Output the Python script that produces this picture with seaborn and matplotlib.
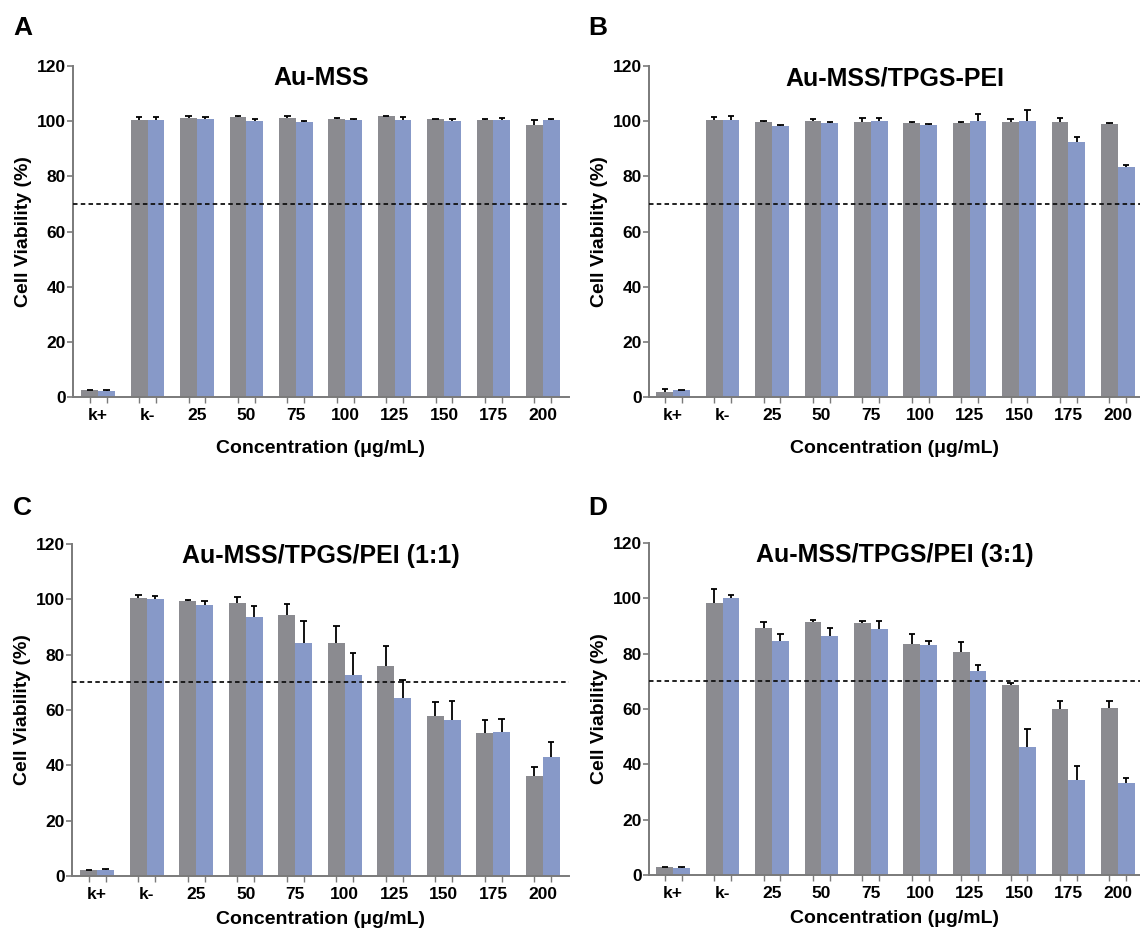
import numpy as np
import pandas as pd
import matplotlib
matplotlib.use("Agg")
import matplotlib.pyplot as plt
import seaborn as sns

# --- DATA ---
groups = ["k+", "k-", "25", "50", "75", "100", "125", "150", "175", "200"]
series = ["gray", "blue"]
titles = ["Au-MSS", "Au-MSS/TPGS-PEI", "Au-MSS/TPGS/PEI (1:1)", "Au-MSS/TPGS/PEI (3:1)"]
letters = ["A", "B", "C", "D"]

# panel A
a_gray = [2.4, 100.5, 101.2, 101.4, 101.2, 100.9, 101.7, 100.7, 100.4, 98.5]
a_gray_err = [0.2, 1.0, 0.6, 0.3, 0.8, 0.3, 0.3, 0.2, 0.3, 2.0]
a_blue = [2.3, 100.5, 100.7, 100.2, 99.8, 100.3, 100.6, 100.2, 100.4, 100.5]
a_blue_err = [0.2, 1.0, 0.7, 0.7, 0.4, 0.5, 0.8, 0.7, 0.6, 0.3]

# panel B
b_gray = [1.8, 100.4, 99.7, 100.1, 99.8, 99.4, 99.5, 99.7, 99.8, 98.9]
b_gray_err = [1.0, 1.2, 0.3, 0.7, 1.3, 0.2, 0.2, 1.0, 1.3, 0.4]
b_blue = [2.4, 100.6, 98.4, 99.2, 100.0, 98.7, 100.1, 100.1, 92.4, 83.5]
b_blue_err = [0.1, 1.2, 0.3, 0.5, 1.2, 0.3, 2.4, 3.9, 1.7, 0.7]

# panel C
c_gray = [2.2, 100.5, 99.5, 98.8, 94.3, 84.2, 75.8, 57.9, 51.6, 36.3]
c_gray_err = [0.1, 1.2, 0.2, 2.0, 4.1, 6.3, 7.2, 4.9, 4.9, 3.0]
c_blue = [2.3, 100.1, 98.0, 93.6, 84.3, 72.5, 64.3, 56.3, 52.0, 43.1]
c_blue_err = [0.1, 1.2, 1.4, 4.0, 8.0, 8.0, 6.6, 6.8, 4.6, 5.5]

# panel D
d_gray = [2.9, 98.2, 89.1, 91.5, 91.0, 83.4, 80.5, 68.5, 60.0, 60.2]
d_gray_err = [0.1, 5.0, 2.3, 0.6, 0.9, 3.8, 3.7, 1.0, 3.0, 2.8]
d_blue = [2.7, 100.0, 84.6, 86.4, 89.0, 83.1, 73.7, 46.2, 34.5, 33.1]
d_blue_err = [0.1, 1.2, 2.6, 2.8, 2.7, 1.3, 2.2, 6.6, 4.9, 2.0]

threshold = 70

panels = [
    (a_gray, a_gray_err, a_blue, a_blue_err),
    (b_gray, b_gray_err, b_blue, b_blue_err),
    (c_gray, c_gray_err, c_blue, c_blue_err),
    (d_gray, d_gray_err, d_blue, d_blue_err),
]

# --- STYLE ---
sns.set_theme(style="white")
plt.rcParams['font.family'] = ['Liberation Sans', 'DejaVu Sans']
plt.rcParams['font.weight'] = 'bold'

colors = ['#8b8b90', '#8799c8']
spine_col = '#7a7a7a'

W, H = 1140, 934
fig = plt.figure(figsize=(W / 100, H / 100), dpi=100)

# axes boxes in pixels: left, zero-line y, width, height
boxes = [
    (73, 397, 496, 331),
    (649, 397, 491, 331),
    (72, 876, 497, 332),
    (649, 875, 491, 332),
]
xlims = [(-0.51, 9.53), (-0.49, 9.45), (-0.51, 9.53), (-0.49, 9.45)]
letter_pos = [(23, 28), (598, 28), (22, 508), (598, 508)]
xlabel_gap = [43, 43, 35, 35]

for i, (g, ge, b, be) in enumerate(panels):
    left, zero_y, w, h = boxes[i]
    ax = fig.add_axes([left / W, 1 - zero_y / H, w / W, h / H])

    df = pd.DataFrame({
        'Concentration': groups * 2,
        'Viability': g + b,
        'err': ge + be,
        'series': [series[0]] * len(groups) + [series[1]] * len(groups),
    })
    sns.barplot(data=df, x='Concentration', y='Viability', hue='series',
                palette=colors, saturation=1, width=0.68, errorbar=None,
                linewidth=0, legend=False, ax=ax, zorder=2)

    # one-sided error bars (up only), GraphPad style
    bar_centers = []
    for cont, vals, errs in zip(ax.containers, [g, b], [ge, be]):
        xs = np.array([p.get_x() + p.get_width() / 2 for p in cont])
        bar_centers.extend(xs)
        tops = np.array(vals) + np.array(errs)
        ax.vlines(xs, vals, tops, color='black', lw=1.3, zorder=3)
        ax.hlines(tops, xs - 0.065, xs + 0.065, color='black', lw=1.3, zorder=3)

    ax.axhline(threshold, color='#111111', lw=1.3, ls=(0, (2.5, 1.8)), zorder=4)

    ax.set_xlim(*xlims[i])
    ax.set_ylim(0, 120)
    ax.set_yticks([0, 20, 40, 60, 80, 100, 120])
    ax.set_xticks(range(len(groups)))
    ax.set_xticklabels(groups)
    ax.set_xticks(sorted(bar_centers), minor=True)

    for s in ['top', 'right']:
        ax.spines[s].set_visible(False)
    for s in ['left', 'bottom']:
        ax.spines[s].set_color(spine_col)
        ax.spines[s].set_linewidth(1.4)

    ax.tick_params(axis='y', which='major', direction='out', length=4, width=1.2,
                   color=spine_col, labelsize=12.5, pad=1, left=True)
    ax.tick_params(axis='x', which='major', length=0, labelsize=12.5, pad=8)
    ax.tick_params(axis='x', which='minor', direction='out', length=4, width=1.0,
                   color=spine_col, bottom=True)
    for lab in ax.get_xticklabels() + ax.get_yticklabels():
        lab.set_fontweight('bold')
        lab.set_color('black')

    ax.set_ylabel('Cell Viability (%)', fontsize=14, fontweight='bold', color='black')
    ax.yaxis.set_label_coords(-41 / w, 0.5)
    ax.set_xlabel('Concentration (\u03bcg/mL)', fontsize=14, fontweight='bold', color='black')
    ax.xaxis.set_label_coords(0.5, -xlabel_gap[i] / h)

    ax.text(0.5, 1 - 12 / h, titles[i], transform=ax.transAxes, ha='center', va='center',
            fontsize=18, fontweight='bold', color='black')

    lx, ly = letter_pos[i]
    fig.text(lx / W, 1 - ly / H, letters[i], ha='center', va='center',
             fontsize=19, fontweight='bold', color='black')

fig.savefig('out.png', dpi=100)
